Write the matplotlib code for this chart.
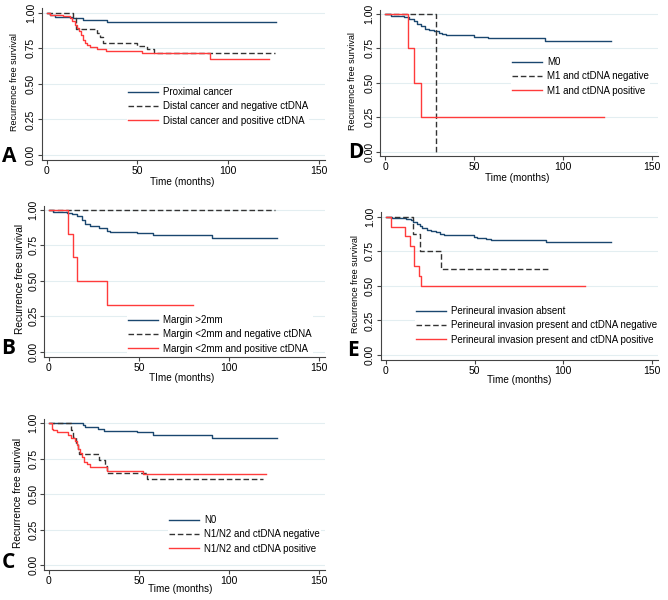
import matplotlib.pyplot as plt
import numpy as np

plt.rcParams['font.family'] = ['Liberation Sans', 'DejaVu Sans']

W, H = 668, 600

blue = '#1a476f'
red = '#ff3b3b'
grey = '#333333'

# Panel A
a_prox_t = [0, 1.8, 4.6, 13.8, 19.8, 33.0, 126.5]
a_prox_s = [1.0, 0.984, 0.972, 0.96, 0.948, 0.932, 0.932]
a_neg_t = [0, 14.3, 16.0, 27.5, 29.3, 31.2, 49.5, 55.0, 59.0, 125.6]
a_neg_s = [1.0, 0.96, 0.885, 0.86, 0.83, 0.79, 0.765, 0.745, 0.715, 0.715]
a_pos_t = [0, 1.8, 9.0, 12.8, 14.0, 15.5, 16.5, 18.0, 19.0, 19.8, 21.0, 22.4, 23.8, 27.5, 32.6, 52.3, 89.9, 122.5]
a_pos_s = [1.0, 0.985, 0.975, 0.96, 0.94, 0.915, 0.89, 0.87, 0.84, 0.81, 0.79, 0.77, 0.76, 0.745, 0.73, 0.715, 0.675, 0.675]
a_labels = ['Proximal cancer', 'Distal cancer and negative ctDNA', 'Distal cancer and positive ctDNA']

# Panel B
b_m2_t = [0, 2.4, 10.0, 13.0, 15.4, 18.1, 20.0, 22.7, 27.7, 32.0, 33.8, 48.6, 57.9, 90.3, 126.3]
b_m2_s = [1.0, 0.985, 0.98, 0.97, 0.96, 0.93, 0.9, 0.885, 0.875, 0.85, 0.845, 0.835, 0.825, 0.805, 0.805]
b_neg_t = [0, 125.6]
b_neg_s = [1.0, 1.0]
b_pos_t = [0, 10.7, 13.1, 15.7, 32.4, 79.7]
b_pos_s = [1.0, 0.833, 0.667, 0.5, 0.333, 0.333]
b_labels = ['Margin >2mm', 'Margin <2mm and negative ctDNA', 'Margin <2mm and positive ctDNA']

# Panel C
c_n0_t = [0, 18.7, 20.0, 27.3, 30.4, 49.1, 57.9, 90.3, 126.3]
c_n0_s = [1.0, 0.985, 0.972, 0.96, 0.946, 0.936, 0.92, 0.894, 0.894]
c_neg_t = [0, 12.2, 13.5, 14.8, 16.0, 16.8, 27.9, 31.0, 32.4, 54.2, 118.9]
c_neg_s = [1.0, 0.95, 0.9, 0.86, 0.82, 0.78, 0.74, 0.70, 0.652, 0.607, 0.607]
c_pos_t = [0, 1.5, 2.2, 4.3, 10.7, 12.0, 14.4, 15.5, 16.3, 17.2, 18.1, 19.4, 20.9, 22.9, 32.4, 52.0, 120.4]
c_pos_s = [1.0, 0.96, 0.95, 0.94, 0.915, 0.895, 0.875, 0.85, 0.82, 0.79, 0.76, 0.73, 0.71, 0.69, 0.665, 0.645, 0.645]
c_labels = ['N0', 'N1/N2 and ctDNA negative', 'N1/N2 and ctDNA positive']

# Panel D
d_m0_t = [0, 3.2, 10.7, 13.5, 16.3, 18.0, 20.4, 22.3, 24.7, 27.5, 30.3, 32.2, 34.0, 50.0, 58.0, 90.0, 126.6]
d_m0_s = [1.0, 0.985, 0.975, 0.965, 0.95, 0.93, 0.91, 0.89, 0.88, 0.875, 0.865, 0.855, 0.845, 0.835, 0.825, 0.805, 0.805]
d_neg_t = [0, 28.4, 28.4]
d_neg_s = [1.0, 0.0, 0.0]
d_pos_t = [0, 12.9, 16.3, 20.0, 122.9]
d_pos_s = [1.0, 0.75, 0.5, 0.25, 0.25]
d_labels = ['M0', 'M1 and ctDNA negative', 'M1 and ctDNA positive']

# Panel E
e_abs_t = [0, 3.75, 11.25, 14.0, 15.6, 17.4, 19.2, 20.5, 23.0, 25.3, 28.1, 30.5, 32.8, 49.7, 51.6, 56.3, 59.0, 90.0, 126.6]
e_abs_s = [1.0, 0.99, 0.98, 0.975, 0.965, 0.95, 0.935, 0.92, 0.905, 0.9, 0.89, 0.875, 0.865, 0.855, 0.845, 0.84, 0.835, 0.82, 0.82]
e_neg_t = [0, 15.4, 19.3, 30.9, 91.9]
e_neg_s = [1.0, 0.875, 0.75, 0.625, 0.625]
e_pos_t = [0, 3.2, 10.9, 13.7, 15.9, 18.8, 19.9, 112.0]
e_pos_s = [1.0, 0.929, 0.857, 0.786, 0.643, 0.571, 0.5, 0.5]
e_labels = ['Perineural invasion absent', 'Perineural invasion present and ctDNA negative',
            'Perineural invasion present and ctDNA positive']

fig = plt.figure(figsize=(W / 100, H / 100), dpi=100)


def fx(x):
    return x / W


def fy(y):
    return 1 - y / H


def panel(box, curves, labels, letter, letter_xy, ylab_x, ylab_size, xlab_xy, xlabel, leg_xy):
    left, top, right, bottom = box
    ax = fig.add_axes([fx(left), fy(bottom), (right - left) / W, (bottom - top) / H])
    ax.set_xlim(-2.75, 153.3)
    ax.set_ylim(-0.035, 1.031)
    for y in [0, 0.25, 0.5, 0.75, 1.0]:
        ax.axhline(y, color='#e3eef1', lw=0.8, zorder=0)
    styles = [dict(color=blue, ls='-'), dict(color=grey, ls=(0, (4, 2))), dict(color=red, ls='-')]
    for (t, s), st, lab in zip(curves, styles, labels):
        ax.step(t, s, where='post', lw=1.0, label=lab, **st)
    for sp in ['top', 'right']:
        ax.spines[sp].set_visible(False)
    for sp in ['left', 'bottom']:
        ax.spines[sp].set_color('#444444')
        ax.spines[sp].set_linewidth(0.8)
    ax.set_xticks([0, 50, 100, 150])
    ax.set_yticks([0, 0.25, 0.5, 0.75, 1.0])
    ax.set_yticklabels(['0.00', '0.25', '0.50', '0.75', '1.00'])
    ax.tick_params(length=3, width=0.8, color='#444444', labelsize=7.5, pad=1.2)
    for lb in ax.get_yticklabels():
        lb.set_rotation(90)
        lb.set_va('center')
    ax.set_ylabel('Recurrence free survival', fontsize=ylab_size, va='center')
    ax.yaxis.set_label_coords(fx(ylab_x), fy((top + bottom) / 2 - 2), transform=fig.transFigure)
    ax.set_xlabel(xlabel, fontsize=7.2, va='center')
    ax.xaxis.set_label_coords(fx(xlab_xy[0]), fy(xlab_xy[1]), transform=fig.transFigure)
    ax.legend(loc='upper left', bbox_to_anchor=(fx(leg_xy[0]), fy(leg_xy[1] - 7)),
              bbox_transform=fig.transFigure, fontsize=7.0, frameon=True,
              facecolor='white', edgecolor='none', framealpha=1, borderpad=0.1,
              borderaxespad=0, handlelength=3.1, handletextpad=0.5, labelspacing=0.45,
              fancybox=False)
    fig.text(fx(letter_xy[0]), fy(letter_xy[1]), letter, fontsize=15, fontweight='bold',
             family=['Open Sans', 'DejaVu Sans'], ha='center', va='center')
    return ax


panel((41.7, 8.3, 325, 160), [(a_prox_t, a_prox_s), (a_neg_t, a_neg_s), (a_pos_t, a_pos_s)],
      a_labels, 'A', (9, 156), 15, 6.5, (182, 182), 'Time (months)', (127, 93))
panel((44.0, 205.6, 325.2, 356.7), [(b_m2_t, b_m2_s), (b_neg_t, b_neg_s), (b_pos_t, b_pos_s)],
      b_labels, 'B', (8, 348), 20, 7.3, (182, 378), 'TIme (months)', (127, 321))
panel((44.0, 418.9, 325.2, 570), [(c_n0_t, c_n0_s), (c_neg_t, c_neg_s), (c_pos_t, c_pos_s)],
      c_labels, 'C', (8, 562), 18, 7.3, (180, 589), 'Time (months)', (168, 521))
panel((380.1, 9.7, 658.2, 156.5), [(d_m0_t, d_m0_s), (d_neg_t, d_neg_s), (d_pos_t, d_pos_s)],
      d_labels, 'D', (356, 152), 352, 6.5, (517, 178), 'Time (months)', (511, 63))
panel((380.8, 212.4, 658.1, 359.8), [(e_abs_t, e_abs_s), (e_neg_t, e_neg_s), (e_pos_t, e_pos_s)],
      e_labels, 'E', (353, 351), 356, 6.5, (519, 380), 'Time (months)', (415, 312))

fig.savefig('out.png', dpi=100)
